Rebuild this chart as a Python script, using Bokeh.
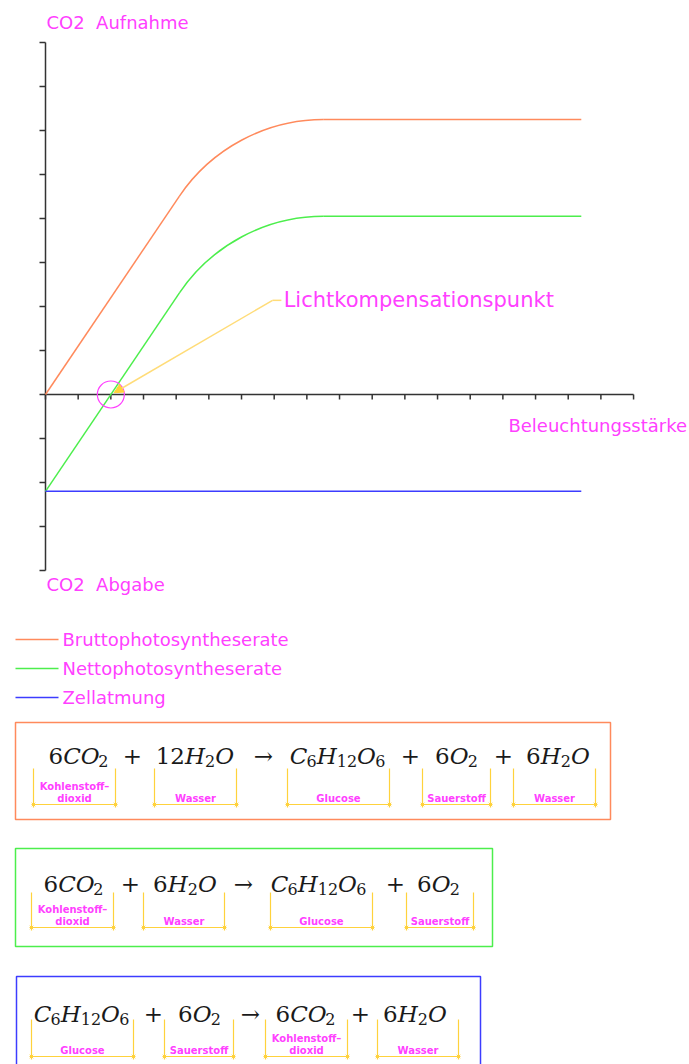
from bokeh.plotting import figure
from bokeh.layouts import column
from bokeh.models import Range1d, Arrow, NormalHead
from bokeh.core.properties import value
from bokeh.embed import file_html
from bokeh.resources import INLINE

# ---------------------------------------------------------------------------
# Data: light intensity (axis units) and CO2 exchange rates
# ---------------------------------------------------------------------------
light = [0.0, 4.1, 8.5, 16.4]          # start, end of linear rise, saturation, end
gross = [0.0, 4.51, 6.25, 6.25]        # Bruttophotosyntheserate
respiration = -2.2                     # Zellatmung (constant CO2 release)
light_bend = 5.68                      # where the initial slope meets saturation
compensation_light = 2.0               # Lichtkompensationspunkt (net rate = 0)

net = [g + respiration for g in gross]  # Nettophotosyntheserate

x_ticks = list(range(0, 19))
y_ticks = list(range(-4, 9))

legend_labels = ["Bruttophotosyntheserate", "Nettophotosyntheserate", "Zellatmung"]

eq_terms = [
    ["6CO2", "12H2O", "C6H12O6", "6O2", "6H2O"],
    ["6CO2", "6H2O", "C6H12O6", "6O2"],
    ["C6H12O6", "6O2", "6CO2", "6H2O"],
]
eq_ops = [
    ["+", "→", "+", "+"],
    ["+", "→", "+"],
    ["+", "→", "+"],
]
eq_names = [
    ["Kohlenstoff–\ndioxid", "Wasser", "Glucose", "Sauerstoff", "Wasser"],
    ["Kohlenstoff–\ndioxid", "Wasser", "Glucose", "Sauerstoff"],
    ["Glucose", "Sauerstoff", "Kohlenstoff–\ndioxid", "Wasser"],
]

# ---------------------------------------------------------------------------
# Styling
# ---------------------------------------------------------------------------
ORANGE = "#ff8a5c"
GREEN = "#4cee4c"
BLUE = "#3c3cff"
MAGENTA = "#ff40ff"
YELLOW = "#ffd23c"
PALE_YELLOW = "#ffdc78"
AXIS = "#333333"
FONT = value("DejaVu Sans")
SERIF = value("DejaVu Serif")

W = 689
TOP_H = 605
BOTTOM_H = 1064 - TOP_H

# pixel layout of the diagram frame
ORIGIN_X, ORIGIN_Y = 45.0, 394.0
PX_PER_X, PX_PER_Y = 32.67, 44.0

x_lo = -ORIGIN_X / PX_PER_X
x_hi = (W - ORIGIN_X) / PX_PER_X
y_lo = (ORIGIN_Y - TOP_H) / PX_PER_Y
y_hi = ORIGIN_Y / PX_PER_Y

p = figure(width=W, height=TOP_H, x_range=Range1d(x_lo, x_hi), y_range=Range1d(y_lo, y_hi),
           output_backend="svg", toolbar_location=None,
           x_axis_location=None, y_axis_location=None, min_border=0)
p.grid.visible = False
p.outline_line_color = None
p.background_fill_color = "white"
p.border_fill_color = "white"

# crossing axes drawn at the origin
tick_x = 5 / PX_PER_Y
tick_y = 6 / PX_PER_X
p.segment(x0=[x_ticks[0], 0], y0=[0, y_ticks[0]], x1=[x_ticks[-1], 0], y1=[0, y_ticks[-1]],
          line_color=AXIS, line_width=1.5)
p.segment(x0=x_ticks, y0=[0] * len(x_ticks), x1=x_ticks, y1=[-tick_x] * len(x_ticks),
          line_color=AXIS, line_width=1.5)
p.segment(x0=[0] * len(y_ticks), y0=y_ticks, x1=[-tick_y] * len(y_ticks), y1=y_ticks,
          line_color=AXIS, line_width=1.5)

# light response curves: linear rise, rounded bend, saturation plateau
K = 0.62


def draw_curve(ys, color):
    p.line(light[:2], ys[:2], line_color=color, line_width=1.5)
    p.line(light[2:], ys[2:], line_color=color, line_width=1.5)
    x0, y0, x1, y1 = light[1], ys[1], light[2], ys[2]
    p.bezier(x0=[x0], y0=[y0], x1=[x1], y1=[y1],
             cx0=[x0 + K * (light_bend - x0)], cy0=[y0 + K * (ys[2] - y0)],
             cx1=[x1 + K * (light_bend - x1)], cy1=[y1],
             line_color=color, line_width=1.5)


draw_curve(gross, ORANGE)
draw_curve(net, GREEN)
p.line([light[0], light[-1]], [respiration, respiration], line_color=BLUE, line_width=1.5)

# compensation point marker and its callout
p.scatter([compensation_light], [0], marker="circle", size=27, fill_color=None,
          line_color=MAGENTA, line_width=1.2)
elbow_x, elbow_y = 6.95, 2.14
p.add_layout(Arrow(end=NormalHead(size=9, fill_color=YELLOW, line_color=YELLOW),
                   x_start=elbow_x, y_start=elbow_y,
                   x_end=compensation_light + 0.1, y_end=0.04,
                   line_color=PALE_YELLOW, line_width=1.5))
p.line([elbow_x, elbow_x + 0.27], [elbow_y, elbow_y], line_color=PALE_YELLOW, line_width=1.5)
p.text(x=[elbow_x + 0.34], y=[elbow_y], text=["Lichtkompensationspunkt"],
       text_font=FONT, text_font_size="21px", text_color=MAGENTA,
       text_align="left", text_baseline="middle")

# axis titles
p.text(x=[0.03, 0.03], y=[8.455, -4.318], text=["CO2\u00a0 Aufnahme", "CO2\u00a0 Abgabe"],
       text_font=FONT, text_font_size="18px", text_color=MAGENTA,
       text_align="left", text_baseline="middle")
p.text(x=[14.17], y=[-0.705], text=["Beleuchtungsstärke"],
       text_font=FONT, text_font_size="18px", text_color=MAGENTA,
       text_align="left", text_baseline="middle")

# ---------------------------------------------------------------------------
# Legend and reaction equations (page pixel coordinates)
# ---------------------------------------------------------------------------
q = figure(width=W, height=BOTTOM_H, x_range=Range1d(0, W), y_range=Range1d(1064, TOP_H),
           output_backend="svg", toolbar_location=None,
           x_axis_location=None, y_axis_location=None, min_border=0)
q.grid.visible = False
q.outline_line_color = None
q.background_fill_color = "white"
q.border_fill_color = "white"

legend_colors = [ORANGE, GREEN, BLUE]
legend_y = [639, 668, 697]
q.segment(x0=[15] * 3, x1=[58] * 3, y0=legend_y, y1=legend_y,
          line_color=legend_colors, line_width=1.5)
q.text(x=[62] * 3, y=legend_y, text=legend_labels, text_font=FONT, text_font_size="18px",
       text_color=MAGENTA, text_align="left", text_baseline="middle")

boxes = [
    dict(color=ORANGE, left=15, right=610, top=722, bottom=819, base=755,
         term_x=[78, 194, 337, 456, 557], op_x=[132, 263, 410, 503],
         spans=[(33, 115), (154, 236), (287, 389), (422, 490), (513, 595)],
         br_top=768, br_line=804),
    dict(color=GREEN, left=15, right=492, top=848, bottom=946, base=883,
         term_x=[73, 184, 318, 438], op_x=[130, 243, 395],
         spans=[(31, 113), (143, 224), (270, 372), (406, 473)],
         br_top=892, br_line=927),
    dict(color=BLUE, left=16, right=480, top=976, bottom=1080, base=1013,
         term_x=[81, 199, 305, 414], op_x=[153, 250, 360],
         spans=[(31, 133), (164, 233), (265, 347), (377, 458)],
         br_top=1019, br_line=1056),
]

# formula typesetting: upright coefficients, italic element symbols, lowered subscripts
EQ_SIZE = 23
SUB_SIZE = 16
SUB_DROP = 5
EM_WIDTH = {"C": 0.734, "H": 0.872, "O": 0.787}
DIGIT_EM = 0.636


def split_formula(formula):
    parts = []
    leading = True
    for ch in formula:
        if ch.isdigit():
            kind = "num" if leading else "sub"
        else:
            kind = "el"
            leading = False
        if parts and parts[-1][1] == kind:
            parts[-1][0] += ch
        else:
            parts.append([ch, kind])
    return parts


def part_width(txt, kind):
    if kind == "num":
        return len(txt) * DIGIT_EM * EQ_SIZE
    if kind == "sub":
        return len(txt) * DIGIT_EM * SUB_SIZE
    return sum(EM_WIDTH[c] for c in txt) * EQ_SIZE


for b, terms, ops, names in zip(boxes, eq_terms, eq_ops, eq_names):
    q.quad(left=[b["left"]], right=[b["right"]], top=[b["top"]], bottom=[b["bottom"]],
           fill_color=None, line_color=b["color"], line_width=1.5)

    runs = {"num": ([], [], []), "el": ([], [], []), "sub": ([], [], [])}
    for cx, term in zip(b["term_x"], terms):
        parts = split_formula(term)
        total = sum(part_width(t, k) for t, k in parts)
        x = cx - total / 2
        for t, k in parts:
            xs, ys, ts = runs[k]
            xs.append(x)
            ys.append(b["base"] + (SUB_DROP if k == "sub" else 0))
            ts.append(t)
            x += part_width(t, k)

    q.text(x=runs["num"][0], y=runs["num"][1], text=runs["num"][2],
           text_font=SERIF, text_font_size=f"{EQ_SIZE}px", text_color="#1a1a1a",
           text_align="left", text_baseline="alphabetic")
    q.text(x=runs["el"][0], y=runs["el"][1], text=runs["el"][2],
           text_font=SERIF, text_font_style="italic", text_font_size=f"{EQ_SIZE}px",
           text_color="#1a1a1a", text_align="left", text_baseline="alphabetic")
    q.text(x=runs["sub"][0], y=runs["sub"][1], text=runs["sub"][2],
           text_font=SERIF, text_font_size=f"{SUB_SIZE}px", text_color="#1a1a1a",
           text_align="left", text_baseline="alphabetic")
    q.text(x=b["op_x"], y=[b["base"]] * len(ops), text=ops,
           text_font=SERIF, text_font_size=f"{EQ_SIZE}px",
           text_color="#1a1a1a", text_align="center", text_baseline="alphabetic")

    lefts = [s[0] for s in b["spans"]]
    rights = [s[1] for s in b["spans"]]
    n = len(lefts)
    line_y = b["br_line"]
    q.segment(x0=lefts + rights, x1=lefts + rights,
              y0=[b["br_top"]] * (2 * n), y1=[line_y + 3] * (2 * n),
              line_color=YELLOW, line_width=1.2)
    q.segment(x0=[l - 2 for l in lefts], x1=[r + 2 for r in rights],
              y0=[line_y] * n, y1=[line_y] * n, line_color=YELLOW, line_width=1.2)
    q.scatter(x=lefts + rights, y=[line_y] * (2 * n), marker="x", size=5,
              line_color=YELLOW, line_width=1)

    for (l, r), name in zip(b["spans"], names):
        lines = name.split("\n")
        cx = (l + r) / 2
        ys = [line_y - 6 - 12 * (len(lines) - 1 - i) for i in range(len(lines))]
        q.text(x=[cx] * len(lines), y=ys, text=lines, text_font=FONT,
               text_font_style="bold", text_font_size="10px", text_color=MAGENTA,
               text_align="center", text_baseline="middle")

layout = column(p, q, spacing=0)
open("out.html", "w").write(file_html(layout, INLINE))
